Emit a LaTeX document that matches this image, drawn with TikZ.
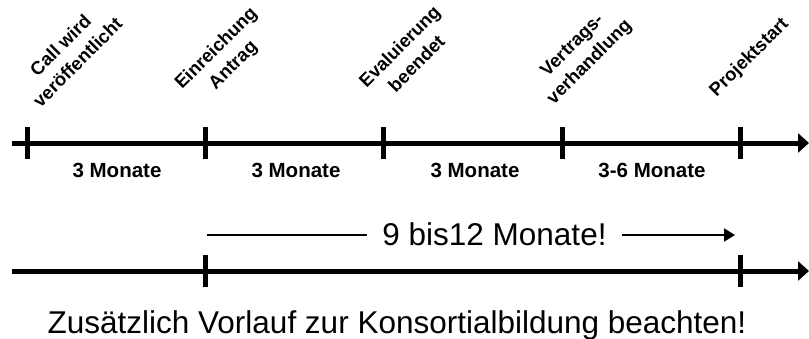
\documentclass[tikz,border=0pt]{standalone}
\usepackage{fontspec}
\setmainfont{Liberation Sans}
\usetikzlibrary{arrows.meta}
\begin{document}
\begin{tikzpicture}[x=1pt,y=-1pt,
  axis/.style={line width=5pt, -{Triangle[length=11pt,width=19pt]}},
  tickmark/.style={line width=5pt},
  period/.style={anchor=base, font=\fontsize{20.5}{24}\selectfont\bfseries, inner sep=0pt},
  event/.style={rotate=45, anchor=base, font=\fontsize{18.5}{22}\selectfont\bfseries, inner sep=0pt},
  big/.style={anchor=base, font=\fontsize{31.5}{36}\selectfont, inner xsep=15pt, inner ysep=0pt},
  span/.style={line width=2pt},
  ]
\useasboundingbox (0,0) rectangle (809,338);
% top axis
\coordinate (s1) at (12,143);
\coordinate (e1) at (809,143);
\coordinate (t1) at (27,143);
\coordinate (t2) at (205,143);
\coordinate (t3) at (383,143);
\coordinate (t4) at (562,143);
\coordinate (t5) at (740,143);
\draw[axis] (s1) -- (e1);
\foreach \t in {t1,t2,t3,t4,t5}
  \draw[tickmark] ([yshift=16pt]\t) -- ([yshift=-16pt]\t);
% events (two lines each, baselines 45 degrees)
\node[event] (ev1a) at (65,50) {Call wird};
\node[event] (ev1b) at (82,67) {veröffentlicht};
\node[event] (ev2a) at (220,52) {Einreichung};
\node[event] (ev2b) at (237,69) {Antrag};
\node[event] (ev3a) at (404,51) {Evaluierung};
\node[event] (ev3b) at (421,68) {beendet};
\node[event] (ev4a) at (576,49) {Vertrags-};
\node[event] (ev4b) at (593,66) {verhandlung};
\node[event] (ev5) at (753,61) {Projektstart};
% periods
\node[period] (p1) at (117,177) {3 Monate};
\node[period] (p2) at (296,177) {3 Monate};
\node[period] (p3) at (475,177) {3 Monate};
\node[period] (p4) at (652,177) {3-6 Monate};
% span arrow
\node[big] (nine) at (494.5,245) {9 bis12 Monate!};
\coordinate (a0) at (207,235);
\coordinate (a1) at (735,235);
\draw[span] (a0) -- (a0 -| nine.west);
\draw[span, -{Triangle[length=11pt,width=13pt]}] (a0 -| nine.east) -- (a1);
% bottom axis
\coordinate (s2) at (12,271);
\coordinate (e2) at (809,271);
\coordinate (b1) at (205,271);
\coordinate (b2) at (740,271);
\draw[axis] (s2) -- (e2);
\foreach \t in {b1,b2}
  \draw[tickmark] ([yshift=16pt]\t) -- ([yshift=-16pt]\t);
\node[big, inner xsep=0pt] (note) at (397,333) {Zusätzlich Vorlauf zur Konsortialbildung beachten!};
\end{tikzpicture}
\end{document}
